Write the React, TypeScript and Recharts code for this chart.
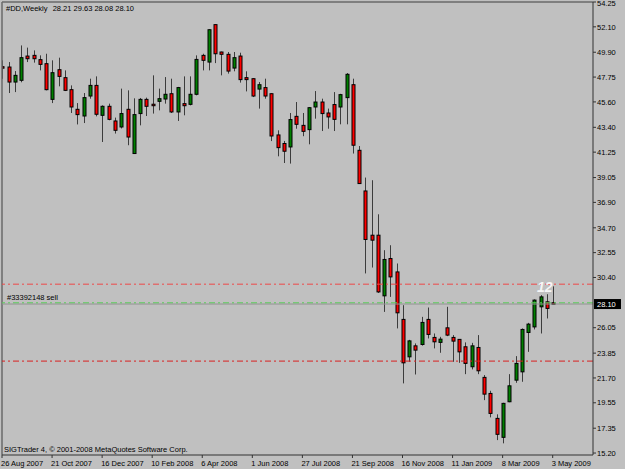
import React from 'react';
import { ComposedChart, Bar, XAxis, YAxis, ReferenceLine } from 'recharts';

// weekly OHLC, 26 Aug 2007 .. 3 May 2009
const opens = [
  48.65, 48.62, 47.32, 47.47, 49.57, 49.63, 49.26, 48.91, 45.82, 48.39,
  47.70, 46.66, 44.96, 44.38, 46.11, 47.03, 44.44, 45.22, 43.95, 43.43,
  44.96, 41.13, 44.59, 45.82, 45.40, 45.65, 45.85, 46.31, 44.73, 45.45,
  45.39, 46.26, 49.63, 49.05, 52.29, 49.92, 49.72, 48.53, 49.57, 47.70,
  47.61, 46.71, 46.84, 46.31, 42.74, 42.00, 41.70, 44.35, 43.57, 43.20,
  45.16, 45.59, 44.64, 45.37, 45.16, 45.97, 47.09, 41.41, 37.89, 34.06,
  34.06, 28.81, 32.04, 30.88, 26.77, 23.53, 24.48, 24.60, 26.77, 25.21,
  24.78, 26.04, 25.21, 25.04, 24.40, 22.67, 24.34, 21.75, 20.36, 18.20,
  16.56, 19.64, 21.51, 22.23, 25.64, 26.12, 27.86, 28.29, 28.21,
];
const highs = [
  49.20, 49.05, 48.27, 50.49, 50.30, 50.06, 49.63, 49.77, 49.20, 49.43,
  48.33, 47.03, 45.50, 46.37, 47.61, 47.81, 45.30, 45.45, 44.24, 46.75,
  46.60, 45.91, 45.94, 45.97, 47.90, 46.75, 47.75, 47.61, 46.90, 47.81,
  47.81, 49.63, 49.77, 51.90, 52.30, 49.95, 49.92, 49.92, 49.86, 48.25,
  47.65, 47.32, 47.61, 46.35, 43.14, 42.22, 44.64, 45.59, 44.64, 45.15,
  46.54, 45.88, 45.02, 46.45, 46.30, 48.10, 47.61, 41.78, 39.05, 38.82,
  35.87, 32.76, 33.19, 31.61, 28.00, 25.00, 24.69, 26.99, 27.80, 25.55,
  25.26, 27.86, 25.41, 25.04, 24.78, 24.74, 25.41, 21.95, 20.59, 18.55,
  19.55, 22.03, 23.59, 25.99, 26.47, 28.50, 28.87, 28.95, 29.63,
];
const lows = [
  47.60, 46.37, 46.45, 47.30, 49.05, 49.00, 48.33, 46.60, 45.50, 46.95,
  46.54, 44.64, 43.65, 43.77, 45.88, 44.35, 42.13, 44.01, 42.86, 43.30,
  41.85, 41.10, 43.57, 44.38, 44.59, 44.87, 45.45, 44.64, 43.95, 44.44,
  45.30, 46.17, 48.33, 48.33, 48.96, 47.90, 48.05, 48.25, 47.27, 46.51,
  46.02, 45.02, 45.88, 42.21, 40.89, 40.31, 40.26, 43.28, 42.63, 41.93,
  44.15, 43.08, 43.28, 43.08, 43.66, 43.66, 41.13, 38.50, 30.75, 31.26,
  29.06, 27.42, 28.72, 25.99, 21.23, 23.10, 22.00, 24.50, 25.12, 24.26,
  23.88, 25.32, 23.10, 23.01, 22.03, 22.44, 22.03, 19.78, 18.29, 16.32,
  16.04, 19.60, 21.28, 21.37, 23.96, 25.90, 25.55, 26.85, 28.08,
];
const closes = [
  48.55, 47.32, 47.90, 49.43, 49.34, 49.34, 48.85, 46.66, 48.13, 47.81,
  46.60, 45.16, 44.50, 45.97, 47.03, 44.53, 45.22, 44.09, 43.14, 44.59,
  42.56, 44.50, 45.82, 45.22, 45.35, 45.88, 46.26, 44.73, 46.84, 45.27,
  46.26, 49.28, 49.20, 51.85, 49.77, 49.72, 48.27, 49.43, 47.53, 47.53,
  46.11, 47.09, 46.11, 42.65, 41.64, 41.33, 44.07, 43.66, 43.05, 45.10,
  45.59, 44.59, 44.30, 44.09, 46.23, 47.99, 41.85, 38.53, 33.69, 33.63,
  29.15, 31.96, 30.45, 27.34, 23.01, 24.91, 24.11, 26.51, 25.47, 24.83,
  25.06, 25.41, 24.89, 23.96, 22.96, 24.48, 22.32, 20.30, 18.63, 16.82,
  19.50, 21.02, 22.96, 25.90, 26.36, 28.44, 28.72, 27.72, 28.10,
];

const tickIdx = [0, 8, 16, 24, 32, 40, 48, 56, 64, 72, 80, 88];
const tickLabels = [
  '26 Aug 2007', '21 Oct 2007', '16 Dec 2007', '10 Feb 2008', '6 Apr 2008', '1 Jun 2008',
  '27 Jul 2008', '21 Sep 2008', '16 Nov 2008', '11 Jan 2009', '8 Mar 2009', '3 May 2009',
];
const priceTicks = [
  54.25, 52.10, 49.90, 47.75, 45.60, 43.40, 41.25, 39.05, 36.90, 34.70,
  32.55, 30.40, 26.05, 23.85, 21.70, 19.55, 17.35, 15.20,
];

const lastPrice = 28.10;
const orderPrice = 28.21;
const stopLevel = 29.82;
const targetLevel = 23.16;

const FONT = '"Liberation Sans", Arial, sans-serif';

const data = opens.map((o, i) => ({
  idx: i,
  open: o,
  high: highs[i],
  low: lows[i],
  close: closes[i],
  range: [lows[i], highs[i]],
}));

function Candle(props: any) {
  const { x, y, width, height, payload } = props;
  if (x == null || y == null) return null;
  const { open, close, high, low } = payload;
  const cx = Math.round(x + width / 2) + 0.5;
  const top = Math.min(y, y + height);
  const h = Math.abs(height);
  const k = h / (high - low || 1);
  const bTop = top + (high - Math.max(open, close)) * k;
  const bBot = top + (high - Math.min(open, close)) * k;
  const up = close > open;
  return (
    <g>
      <line x1={cx} x2={cx} y1={top} y2={top + h} stroke="#3c3c3c" strokeWidth={1} />
      <rect
        x={cx - 1.5}
        y={bTop}
        width={3}
        height={Math.max(bBot - bTop, 1.5)}
        fill={up ? '#008000' : '#ff0000'}
        stroke="#000"
        strokeWidth={1}
      />
    </g>
  );
}

function DateTick(props: any) {
  const { x, y, payload } = props;
  const i = tickIdx.indexOf(payload.value);
  return (
    <g>
      <line x1={x} x2={x} y1={y} y2={y + 3} stroke="#333" />
      <text x={x - 1} y={y + 10.5} fontSize={7.5} fontFamily={FONT} fill="#000" textAnchor="start">
        {tickLabels[i]}
      </text>
    </g>
  );
}

function PriceTick(props: any) {
  const { x, y, payload } = props;
  // top label sits on the frame edge; keep it just inside the picture
  const ty = Math.max(y + 2.7, 6.2);
  return (
    <g>
      <line x1={x} x2={x + 3} y1={y} y2={y} stroke="#333" />
      <text x={x + 4} y={ty} fontSize={7.5} fontFamily={FONT} fill="#000" textAnchor="start">
        {payload.value.toFixed(2)}
      </text>
    </g>
  );
}

function PriceBox(props: any) {
  const vb = props.viewBox || {};
  const bx = vb.x + vb.width + 1;
  const by = vb.y;
  return (
    <g>
      <rect x={bx} y={by - 5} width={27} height={10} fill="#000" />
      <text x={bx + 3} y={by + 2.7} fontSize={7.5} fontFamily={FONT} fill="#fff">
        {lastPrice.toFixed(2)}
      </text>
    </g>
  );
}

function OrderLabel(props: any) {
  const vb = props.viewBox || {};
  return (
    <text x={vb.x + 5} y={vb.y - 2.3} fontSize={7.5} fontFamily={FONT} fill="#000">
      #33392148 sell
    </text>
  );
}

export default function App() {
  return (
    <div style={{ position: 'absolute', left: 0, top: 0, width: 625, height: 469, background: '#c0c0c0' }}>
      <ComposedChart width={625} height={469} data={data} margin={{ top: 2, right: 0, bottom: 0, left: 2 }}>
        <XAxis
          dataKey="idx"
          type="number"
          domain={[0, 94.44]}
          allowDataOverflow
          ticks={tickIdx}
          interval={0}
          height={14}
          tickSize={0}
          tickMargin={0}
          tickLine={false}
          axisLine={{ stroke: '#333' }}
          tick={<DateTick />}
        />
        <YAxis
          orientation="right"
          width={32}
          domain={[15.03, 54.25]}
          allowDataOverflow
          ticks={priceTicks}
          interval={0}
          tickSize={0}
          tickMargin={0}
          tickLine={false}
          axisLine={{ stroke: '#333' }}
          tick={<PriceTick />}
        />
        <ReferenceLine x={0} stroke="#6a6a6a" strokeWidth={1.5} />
        <ReferenceLine y={54.25} stroke="#6a6a6a" strokeWidth={1.5} />
        <ReferenceLine y={stopLevel} stroke="#ee4848" strokeDasharray="6 3 2 3" />
        <ReferenceLine y={targetLevel} stroke="#d82020" strokeDasharray="6 3 2 3" />
        <ReferenceLine y={lastPrice} stroke="#939393" label={<PriceBox />} />
        <ReferenceLine y={orderPrice} stroke="#5ccc5c" strokeDasharray="6 3 2 3" label={<OrderLabel />} />
        <Bar dataKey="range" barSize={5} shape={<Candle />} isAnimationActive={false} />
      </ComposedChart>
      <svg width={625} height={469} style={{ position: 'absolute', left: 0, top: 0, pointerEvents: 'none' }}>
        <text x={6} y={10.7} fontSize={7.5} fontFamily={FONT} fill="#000">#DD,Weekly</text>
        <text x={52.7} y={10.7} fontSize={7.5} fontFamily={FONT} fill="#000">28.21 29.63 28.08 28.10</text>
        <text x={4} y={451.7} fontSize={7.5} fontFamily={FONT} fill="#000">
          SIGTrader 4, © 2001-2008 MetaQuotes Software Corp.
        </text>
        <text x={537} y={292} fontSize={14} fontWeight="bold" fontStyle="italic" fontFamily={FONT} fill="#f6f6f6">
          12
        </text>
      </svg>
    </div>
  );
}
